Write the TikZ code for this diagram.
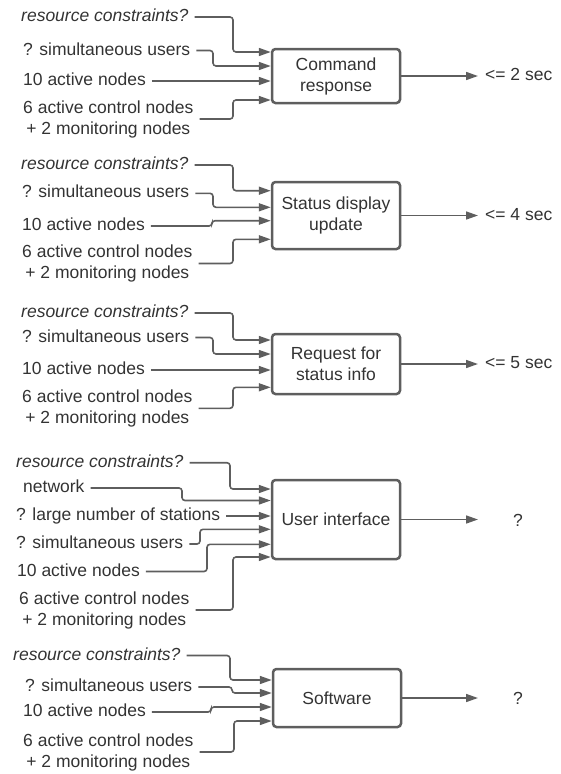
\documentclass[tikz,border=0pt]{standalone}
\usepackage{fontspec}
\setmainfont{Liberation Sans}
\usetikzlibrary{arrows.meta}
\definecolor{linegray}{RGB}{94,94,94}
\definecolor{txtgray}{RGB}{51,51,51}

\begin{document}
\begin{tikzpicture}
[x=1pt, y=-1pt,
 every node/.style={text=txtgray, font=\fontsize{17.5}{21}\selectfont},
 lbl/.style={anchor=west, inner xsep=6pt, inner ysep=0pt, text height=12.5pt, text depth=3.5pt},
 lbltwo/.style={anchor=west, inner xsep=6pt, inner ysep=0pt, align=center},
 res/.style={anchor=west, inner xsep=7pt, inner ysep=0pt, text height=12.5pt, text depth=3.5pt},
 blk/.style={draw=linegray, line width=2.5pt, rounded corners=3.5pt, minimum width=128pt, align=center, inner sep=2pt},
 link/.style={draw=linegray, line width=1.6pt, rounded corners=3pt, -{Triangle[length=12pt, width=8pt]}}]
\useasboundingbox (0,0) rectangle (561,774);
\node (cmd) [blk, minimum height=54pt] at (336, 76) {Command\\response};
\node (rc1) [lbl] at (15, 17) {\itshape resource constraints?};
\node (us1) [lbl] at (17, 50.5) {? simultaneous users};
\node (ac1) [lbl] at (17, 81) {10 active nodes};
\node (ct1) [lbltwo] at (17, 119) {6 active control nodes\\+ 2 monitoring nodes};
\node (o1) [res] at (478, 76) {<= 2 sec};
\draw [link] (rc1.east) -| (233,52) -- (cmd.west |- 0,52);
\draw [link] (us1.east) -| (213,66) -- (cmd.west |- 0,66);
\draw [link] (ac1.east) -- (cmd.west |- 0,81);
\draw [link] (ct1.east) -| (233,100) -- (cmd.west |- 0,100);
\draw [link] (cmd.east) -- (o1.west);
\node (sdu) [blk, minimum height=67pt] at (336, 215.5) {Status display\\update};
\node (rc2) [lbl] at (15, 165) {\itshape resource constraints?};
\node (us2) [lbl] at (16, 193.3) {? simultaneous users};
\node (ac2) [lbl] at (16, 226) {10 active nodes};
\node (ct2) [lbltwo] at (16, 263.5) {6 active control nodes\\+ 2 monitoring nodes};
\node (o2) [res] at (478, 215.5) {<= 4 sec};
\draw [link] (rc2.east) -| (233,190.7) -- (sdu.west |- 0,190.7);
\draw [link] (us2.east) -| (213,207.3) -- (sdu.west |- 0,207.3);
\draw [link] (ac2.east) -| (212,220.7) -- (sdu.west |- 0,220.7);
\draw [link] (ct2.east) -| (233,239.3) -- (sdu.west |- 0,239.3);
\draw [link] (sdu.east) -- (o2.west);
\node (rsi) [blk, minimum height=60pt] at (336, 364) {Request for\\status info};
\node (rc3) [lbl] at (15, 313) {\itshape resource constraints?};
\node (us3) [lbl] at (16, 337.5) {? simultaneous users};
\node (ac3) [lbl] at (16, 370) {10 active nodes};
\node (ct3) [lbltwo] at (16, 408.3) {6 active control nodes\\+ 2 monitoring nodes};
\node (o3) [res] at (478, 364) {<= 5 sec};
\draw [link] (rc3.east) -| (233,340) -- (rsi.west |- 0,340);
\draw [link] (us3.east) -| (213,354) -- (rsi.west |- 0,354);
\draw [link] (ac3.east) -- (rsi.west |- 0,370);
\draw [link] (ct3.east) -| (233,387.3) -- (rsi.west |- 0,387.3);
\draw [link] (rsi.east) -- (o3.west);
\node (ui) [blk, minimum height=79pt] at (336, 519.5) {User interface};
\node (rc4) [lbl] at (10, 462.7) {\itshape resource constraints?};
\node (nw4) [lbl] at (17, 488) {network};
\node (ln4) [lbl] at (10, 516) {? large number of stations};
\node (us4) [lbl] at (10, 544) {? simultaneous users};
\node (ac4) [lbl] at (11, 571.5) {10 active nodes};
\node (ct4) [lbltwo] at (13, 610) {6 active control nodes\\+ 2 monitoring nodes};
\coordinate (o4) at (478, 519.5);
\node (q4) at (518, 520) {?};
\draw [link] (rc4.east) -| (230,489) -- (ui.west |- 0,489);
\draw [link] (nw4.east) -| (182,500.5) -- (ui.west |- 0,500.5);
\draw [link] (ln4.east) -- (ui.west |- 0,516);
\draw [link] (us4.east) -| (200,529.3) -- (ui.west |- 0,529.3);
\draw [link] (ac4.east) -| (207,544.3) -- (ui.west |- 0,544.3);
\draw [link] (ct4.east) -| (233,557) -- (ui.west |- 0,557);
\draw [link] (ui.east) -- (o4);
\node (sw) [blk, minimum height=58pt] at (337, 698) {Software};
\node (rc5) [lbl] at (7, 655.5) {\itshape resource constraints?};
\node (us5) [lbl] at (19, 687) {? simultaneous users};
\node (ac5) [lbl] at (17, 712) {10 active nodes};
\node (ct5) [lbltwo] at (17, 752) {6 active control nodes\\+ 2 monitoring nodes};
\coordinate (o5) at (478, 698);
\node (q5) at (518, 698) {?};
\draw [link] (rc5.east) -| (230,680) -- (sw.west |- 0,680);
\draw [link] (us5.east) -| (232,693) -- (sw.west |- 0,693);
\draw [link] (ac5.east) -| (211,707) -- (sw.west |- 0,707);
\draw [link] (ct5.east) -| (234,721) -- (sw.west |- 0,721);
\draw [link] (sw.east) -- (o5);
\end{tikzpicture}
\end{document}
